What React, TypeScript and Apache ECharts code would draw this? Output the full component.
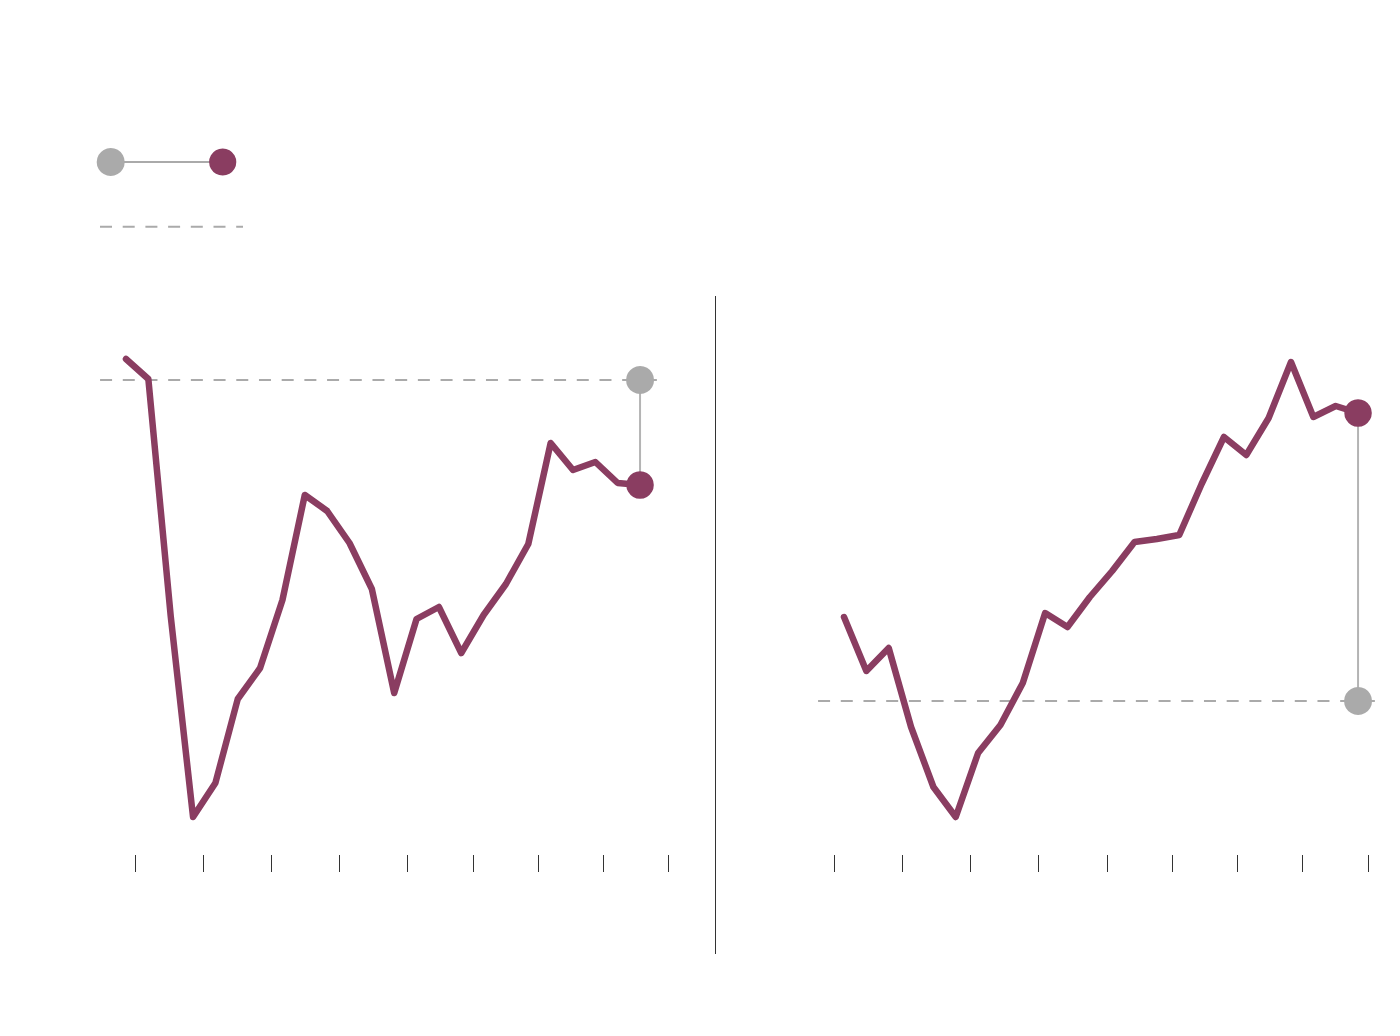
import React, { useEffect, useRef } from "react";
import * as echarts from "echarts";

// ---- data ----
const leftIndex = [0, 1, 2, 3, 4, 5, 6, 7, 8, 9, 10, 11, 12, 13, 14, 15, 16, 17, 18, 19, 20, 21, 22, 23];
const leftValues = [
  104.2, 100.2, 52.8, 12.6, 19.4, 36.2, 42.4, 56, 77, 73.8, 67.4, 58.2,
  37.4, 52.2, 54.6, 45.4, 53, 59.2, 67.2, 87.4, 82, 83.6, 79.4, 79,
];
const leftBaseline = 100;
const leftTicks = [0.43, 3.47, 6.52, 9.56, 12.6, 15.53, 18.45, 21.37, 24.27];

const rightIndex = [0, 1, 2, 3, 4, 5, 6, 7, 8, 9, 10, 11, 12, 13, 14, 15, 16, 17, 18, 19, 20, 21, 22, 23];
const rightValues = [
  116.8, 106, 110.6, 94.8, 82.8, 76.8, 89.6, 95.2, 103.6, 117.6, 114.8, 120.8,
  126, 131.8, 132.4, 133.2, 143.4, 152.8, 149.2, 156.6, 167.8, 156.8, 159, 157.6,
];
const rightBaseline = 100;
const rightTicks = [-0.44, 2.62, 5.67, 8.71, 11.76, 14.68, 17.6, 20.52, 23.46];

// ---- styles ----
const MAROON = "#8a3d61";
const GREY = "#aaaaaa";
const CONNECT = "#b4b4b4";
const DARK = "#333333";
const DASH = [12, 10.7];

const X_MIN = -1.2;
const X_MAX = 24.5;
const DASH_START = -1.16;
const DASH_END = 23.82;
const STEP = 22.35;

function panelSeries(idx: number[], vals: number[], base: number, gi: number) {
  const last = idx[idx.length - 1];
  const lastVal = vals[vals.length - 1];
  return [
    {
      type: "line",
      xAxisIndex: gi,
      yAxisIndex: gi,
      data: [
        [DASH_START, base],
        [DASH_END, base],
      ],
      symbol: "none",
      silent: true,
      z: 1,
      lineStyle: { color: GREY, width: 2, type: DASH },
    },
    {
      type: "line",
      xAxisIndex: gi,
      yAxisIndex: gi,
      data: [
        [last, base],
        [last, lastVal],
      ],
      symbol: "none",
      silent: true,
      z: 2,
      lineStyle: { color: CONNECT, width: 2 },
    },
    {
      type: "line",
      xAxisIndex: gi,
      yAxisIndex: gi,
      data: idx.map((x, i) => [x, vals[i]]),
      symbol: "none",
      silent: true,
      z: 3,
      lineStyle: { color: MAROON, width: 6.5, cap: "round", join: "round" },
    },
    {
      type: "scatter",
      xAxisIndex: gi,
      yAxisIndex: gi,
      data: [[last, base]],
      symbol: "circle",
      symbolSize: 28,
      silent: true,
      z: 4,
      itemStyle: { color: GREY, opacity: 1 },
    },
    {
      type: "scatter",
      xAxisIndex: gi,
      yAxisIndex: gi,
      data: [[last, lastVal]],
      symbol: "circle",
      symbolSize: 27.5,
      silent: true,
      z: 5,
      itemStyle: { color: MAROON, opacity: 1 },
    },
  ];
}

function xAxis(gi: number, ticks: number[]) {
  return {
    type: "value",
    gridIndex: gi,
    min: X_MIN,
    max: X_MAX,
    axisLine: { show: false },
    axisLabel: { show: false },
    splitLine: { show: false },
    axisTick: {
      show: true,
      inside: false,
      length: 17,
      customValues: ticks,
      lineStyle: { color: DARK, width: 1 },
    },
  };
}

function yAxis(gi: number, min: number, max: number) {
  return {
    type: "value",
    gridIndex: gi,
    min,
    max,
    show: false,
  };
}

export default function App() {
  const ref = useRef<HTMLDivElement>(null);
  useEffect(() => {
    if (!ref.current) return;
    const chart = echarts.init(ref.current, undefined, { renderer: "svg" });
    const gridWidth = (X_MAX - X_MIN) * STEP;
    const leftOrigin = 118;
    const rightOrigin = 836;
    chart.setOption({
      animation: false,
      backgroundColor: "#ffffff",
      grid: [
        { left: leftOrigin + X_MIN * STEP, width: gridWidth, top: 272, height: 575 },
        { left: rightOrigin + X_MIN * STEP, width: gridWidth, top: 272, height: 575 },
      ],
      xAxis: [xAxis(0, leftTicks), xAxis(1, rightTicks)],
      yAxis: [yAxis(0, 5, 120), yAxis(1, 69.2, 184.2)],
      series: [
        ...panelSeries(leftIndex, leftValues, leftBaseline, 0),
        ...panelSeries(rightIndex, rightValues, rightBaseline, 1),
      ],
      graphic: [
        {
          type: "line",
          shape: { x1: 102.7, y1: 154, x2: 214.7, y2: 154 },
          style: { stroke: GREY, lineWidth: 2 },
          silent: true,
        },
        {
          type: "circle",
          shape: { cx: 102.7, cy: 154, r: 14 },
          style: { fill: GREY },
          silent: true,
        },
        {
          type: "circle",
          shape: { cx: 214.7, cy: 154, r: 13.6 },
          style: { fill: MAROON },
          silent: true,
        },
        {
          type: "line",
          shape: { x1: 92, y1: 218.7, x2: 235, y2: 218.7 },
          style: { stroke: GREY, lineWidth: 2, lineDash: DASH },
          silent: true,
        },
        {
          type: "line",
          shape: { x1: 707.5, y1: 288, x2: 707.5, y2: 946 },
          style: { stroke: DARK, lineWidth: 1 },
          silent: true,
        },
      ],
    });
    return () => chart.dispose();
  }, []);
  return <div ref={ref} style={{ width: 1384, height: 1020 }} />;
}
